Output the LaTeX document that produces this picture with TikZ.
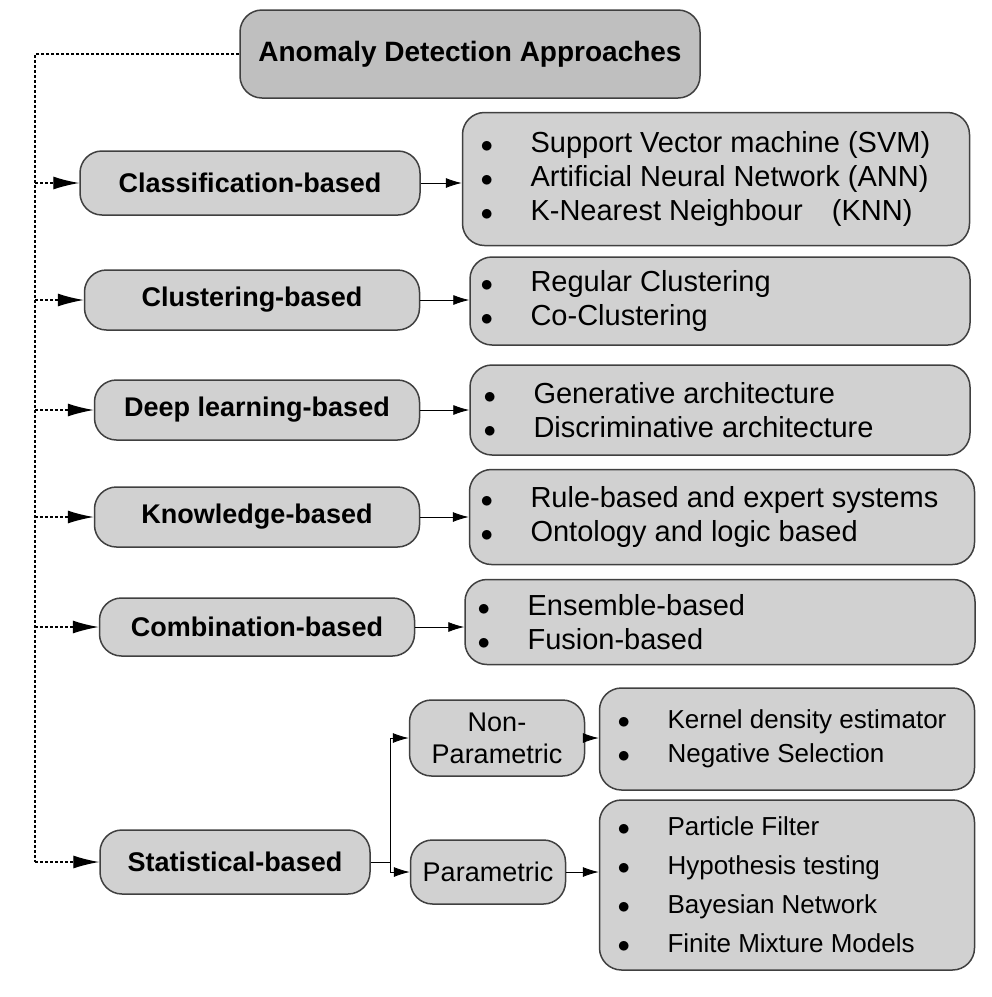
\documentclass[tikz,border=0pt]{standalone}
\usepackage{fontspec}
\setmainfont{Liberation Sans}
\usetikzlibrary{arrows.meta,positioning}
\tikzset{
  box/.style={draw=black!75, line width=1.5pt, fill=black!18, rounded corners=22pt, inner sep=0pt},
  lbl/.style={font=\fontsize{27}{31}\selectfont\bfseries},
  items/.style={align=left, anchor=west, font=\fontsize{29}{34}\selectfont},
  feed/.style={densely dashed, line width=1.3pt, -{Latex[length=26pt,width=13pt]}},
  link/.style={line width=0.8pt, -{Latex[length=16pt,width=10pt]}},
}
\newcommand{\bul}{\makebox[50pt][l]{$\bullet$}}
\begin{document}
\begin{tikzpicture}[x=1pt,y=-1pt]
\useasboundingbox (0,0) rectangle (992,997);
% top
\node[box, fill=black!25, minimum width=460pt, minimum height=88pt, lbl, font=\fontsize{28}{32}\selectfont\bfseries] (top) at (470,54) {Anomaly Detection Approaches};
% method nodes
\node[box, minimum width=340pt, minimum height=64pt, lbl] (cls) at (250,183) {Classification-based};
\node[box, minimum width=335pt, minimum height=60pt, lbl] (clu) at (252,300) {Clustering-based};
\node[box, minimum width=325pt, minimum height=60pt, lbl] (dl) at (257,410) {Deep learning-based};
\node[box, minimum width=325pt, minimum height=60pt, lbl] (kn) at (257,517) {Knowledge-based};
\node[box, minimum width=315pt, minimum height=58pt, lbl] (cmb) at (257,627) {Combination-based};
\node[box, minimum width=270pt, minimum height=64pt, lbl] (st) at (235,862) {Statistical-based};
\node[box, minimum width=175pt, minimum height=76pt, align=center, font=\fontsize{27}{32}\selectfont] (np) at (497,738) {Non-\\Parametric};
\node[box, minimum width=155pt, minimum height=64pt, font=\fontsize{27}{31}\selectfont] (par) at (488,872) {Parametric};
% item boxes
\node[box, minimum width=507pt, minimum height=133pt] (r1) at (716,179) {};
\node[box, minimum width=500pt, minimum height=88pt] (r2) at (720,301) {};
\node[box, minimum width=500pt, minimum height=90pt] (r3) at (720,410) {};
\node[box, minimum width=505pt, minimum height=95pt] (r4) at (722,517) {};
\node[box, minimum width=510pt, minimum height=85pt] (r5) at (720,622) {};
\node[box, minimum width=375pt, minimum height=102pt] (r6) at (787,739) {};
\node[box, minimum width=375pt, minimum height=170pt] (r7) at (787,885) {};
\node[items] (i1) at (477,179) {\bul Support Vector machine (SVM)\\\bul Artificial Neural Network (ANN)\\\bul K-Nearest Neighbour\quad (KNN)};
\node[items] (i2) at (477,301) {\bul Regular Clustering\\\bul Co-Clustering};
\node[items] (i3) at (480,410) {\bul Generative architecture\\\bul Discriminative architecture};
\node[items] (i4) at (477,517) {\bul Rule-based and expert systems\\\bul Ontology and logic based};
\node[items] (i5) at (474,622) {\bul Ensemble-based\\\bul Fusion-based};
\node[items, font=\fontsize{26}{34}\selectfont] (i6) at (614,739) {\bul Kernel density estimator\\\bul Negative Selection};
\node[items, font=\fontsize{26}{39}\selectfont] (i7) at (614,885) {\bul Particle Filter\\\bul Hypothesis testing\\\bul Bayesian Network\\\bul Finite Mixture Models};
% trunk
\coordinate (t0) at (35,54);
\coordinate (t6) at (35,862);
\draw[densely dashed, line width=1.3pt] (top.west) -- (t0) -- (t6);
\foreach \n in {cls,clu,dl,kn,cmb,st}
  \draw[feed] (t0 |- \n.west) -- (\n.west);
% links
\foreach \a/\b in {cls/r1,clu/r2,dl/r3,kn/r4,cmb/r5,np/r6,par/r7}
  \draw[link] (\a.east) -- (\a.east -| \b.west);
\coordinate (fork) at (390,862);
\draw[line width=0.8pt] (st.east) -- (fork);
\draw[link] (fork) |- (np.west);
\draw[link] (fork) |- (par.west);
\end{tikzpicture}
\end{document}
